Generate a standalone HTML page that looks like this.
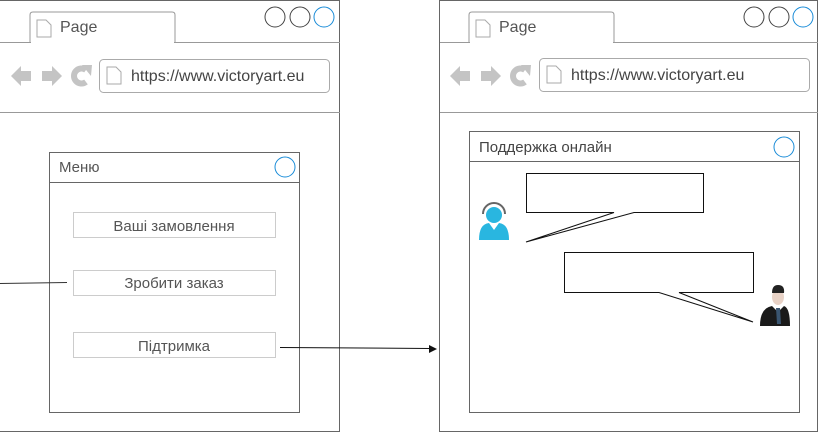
<!DOCTYPE html>
<html><head><meta charset="utf-8"><style>
html,body{margin:0;padding:0;background:#fff;width:818px;height:443px;overflow:hidden}
text{font-family:"Liberation Sans",Arial,sans-serif}
</style></head><body>
<svg width="818" height="443" xmlns="http://www.w3.org/2000/svg">
<defs>
<g id="nav">
 <path d="M11 76 L21 66 V71 H31 V81 H21 V86 Z" fill="#c4c4c4"/>
 <path d="M62 76 L52 66 V71 H42 V81 H52 V86 Z" fill="#c4c4c4"/>
 <path d="M86 70 A7.5 7.5 0 1 0 86 82" fill="none" stroke="#c4c4c4" stroke-width="6"/>
 <path d="M82 65 L92 65 L91 76 Z" fill="#c4c4c4"/>
 <path d="M30 42 V15 Q30 12 33 12 H172 Q175 12 175 15 V42" fill="#fff" stroke="#999"/>
 <path d="M37 20 H46 L51 25 V37 H37 Z" fill="#fff" stroke="#aaa"/>
 <text x="60" y="32" font-size="16" fill="#555">Page</text>
</g>
</defs>
<!-- left browser -->
<rect x="-2" y="0.5" width="341.5" height="431" fill="#fff" stroke="#666"/>
<line x1="0" y1="42.5" x2="340" y2="42.5" stroke="#999"/>
<use href="#nav"/>
<line x1="31" y1="42.5" x2="174" y2="42.5" stroke="#fff" stroke-width="1.5"/>
<line x1="0" y1="112.5" x2="340" y2="112.5" stroke="#999"/>
<rect x="99.5" y="59.5" width="230" height="33" rx="4" fill="#fff" stroke="#aaa"/>
<path d="M107 67 H116 L121 72 V84 H107 Z" fill="#fff" stroke="#aaa"/>
<text x="131" y="81" font-size="16" fill="#444">https://www.victoryart.eu</text>
<circle cx="275" cy="17" r="10" fill="#fff" stroke="#444"/>
<circle cx="300" cy="17" r="10" fill="#fff" stroke="#444"/>
<circle cx="324" cy="17" r="10" fill="#fff" stroke="#1a8cd8"/>

<!-- right browser -->
<rect x="439.5" y="0.5" width="378" height="431" fill="#fff" stroke="#666"/>
<line x1="440" y1="42.5" x2="818" y2="42.5" stroke="#999"/>
<g transform="translate(439,0)"><use href="#nav"/></g>
<line x1="470" y1="42.5" x2="613" y2="42.5" stroke="#fff" stroke-width="1.5"/>
<line x1="440" y1="112.5" x2="818" y2="112.5" stroke="#999"/>
<rect x="539.5" y="58.5" width="270" height="33" rx="4" fill="#fff" stroke="#aaa"/>
<path d="M547 66 H556 L561 71 V83 H547 Z" fill="#fff" stroke="#aaa"/>
<text x="571" y="80" font-size="16" fill="#444">https://www.victoryart.eu</text>
<circle cx="754" cy="17" r="10" fill="#fff" stroke="#444"/>
<circle cx="779" cy="17" r="10" fill="#fff" stroke="#444"/>
<circle cx="803" cy="17" r="10" fill="#fff" stroke="#1a8cd8"/>

<!-- menu -->
<rect x="49.5" y="152.5" width="250" height="260" fill="#fff" stroke="#666"/>
<line x1="49" y1="182.5" x2="300" y2="182.5" stroke="#666"/>
<text x="59" y="172" font-size="15" fill="#555">Меню</text>
<circle cx="285" cy="167" r="10" fill="#fff" stroke="#1a8cd8"/>
<rect x="73.5" y="212.5" width="202" height="25" fill="#fff" stroke="#ccc"/>
<text x="174" y="231" font-size="15" fill="#555" text-anchor="middle">Ваші замовлення</text>
<rect x="73.5" y="270.5" width="202" height="25" fill="#fff" stroke="#ccc"/>
<text x="174" y="288" font-size="15" fill="#555" text-anchor="middle">Зробити заказ</text>
<rect x="73.5" y="332.5" width="202" height="25" fill="#fff" stroke="#ccc"/>
<text x="174" y="351" font-size="15" fill="#555" text-anchor="middle">Підтримка</text>

<line x1="0" y1="283.5" x2="67" y2="282.5" stroke="#333"/>
<line x1="280" y1="347.5" x2="430" y2="348.5" stroke="#111"/>
<path d="M437 349 L429 345 L429 353 Z" fill="#111"/>

<!-- chat -->
<rect x="469.5" y="131.5" width="330" height="281" fill="#fff" stroke="#666"/>
<line x1="469" y1="161.5" x2="800" y2="161.5" stroke="#666"/>
<text x="479" y="152" font-size="15" fill="#444">Поддержка онлайн</text>
<circle cx="784" cy="147" r="10" fill="#fff" stroke="#1a8cd8"/>

<path d="M526.5 173.5 H703.5 V212.5 H634 L526 242 L614 212.5 H526.5 Z" fill="#fff" stroke="#111"/>
<path d="M564.5 252.5 H753.5 V292.5 H679 L753 322 L659 292.5 H564.5 Z" fill="#fff" stroke="#111"/>

<!-- support agent -->
<path d="M483 214 A11 11 0 0 1 505 214" fill="none" stroke="#666" stroke-width="2"/>
<circle cx="494" cy="215" r="8" fill="#29b6e0"/>
<path d="M479 240 Q479 224 489 223 L494 230 L499 223 Q509 224 509 240 Z" fill="#29b6e0"/>
<!-- businessman -->
<ellipse cx="778" cy="297" rx="6" ry="8" fill="#e8d2c6"/>
<path d="M772 293 Q772 285 778 285 Q785 285 784 293 Z" fill="#222"/>
<path d="M760 326 Q760 308 772 306 L778 312 L784 306 Q790 308 790 326 Z" fill="#1a1a1a"/>
<path d="M776 308 L780 308 L781 324 L777 324 Z" fill="#3a5570"/>
</svg>
</body></html>
